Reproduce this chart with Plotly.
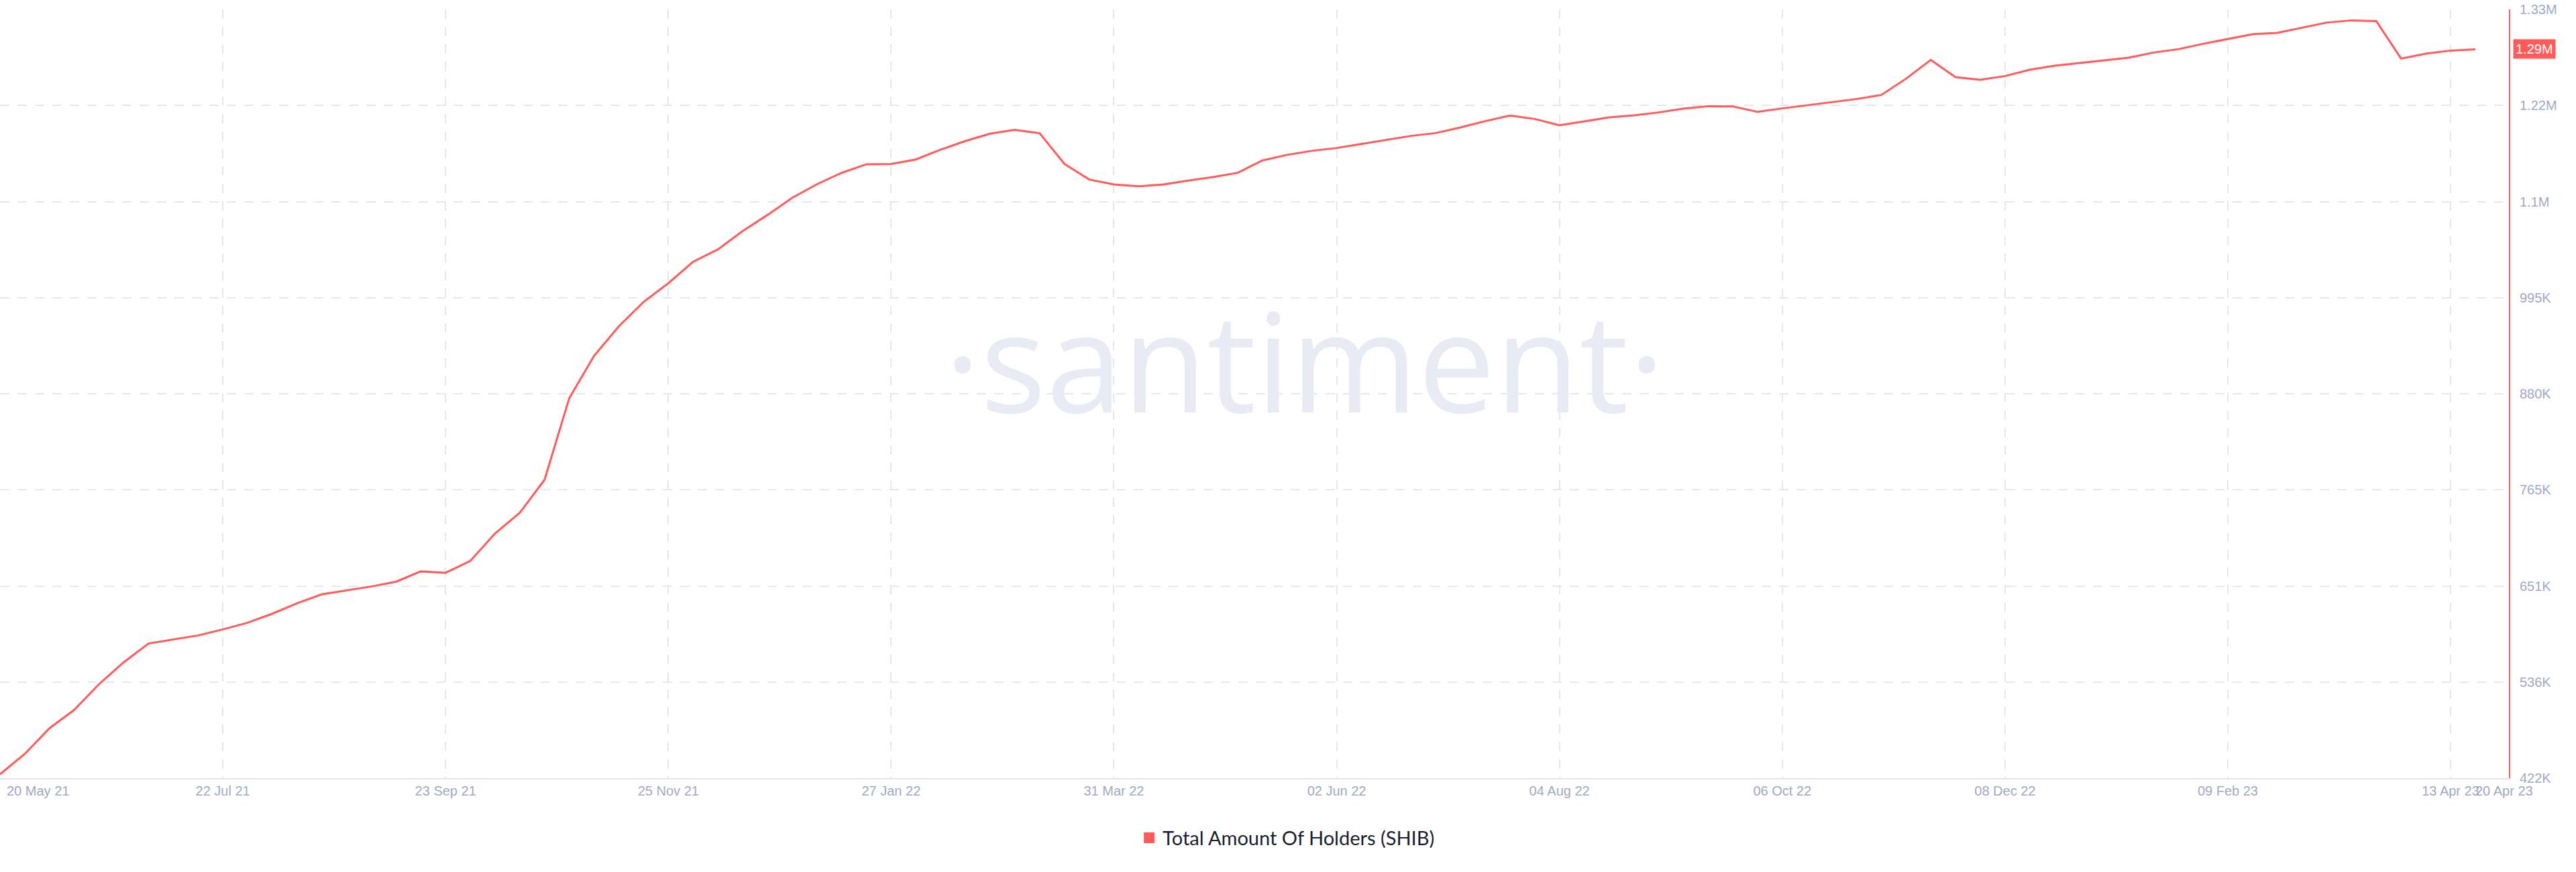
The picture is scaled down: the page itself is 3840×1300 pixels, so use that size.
import pandas as pd
import plotly.graph_objects as go

# ---- data ----
start_date = "2021-05-20"
series_name = "Total Amount Of Holders (SHIB)"
holders_k = [
    426.6, 450.8, 481.4, 503.4, 534.0, 560.2, 582.5, 587.3, 592.1, 599.3,
    607.3, 618.0, 630.5, 641.2, 645.9, 650.5, 656.2, 668.5, 666.9, 681.0,
    713.8, 738.5, 777.8, 875.3, 925.6, 960.8, 989.9, 1012.2, 1037.8, 1052.5,
    1074.4, 1093.5, 1114.0, 1130.2, 1143.8, 1154.1, 1154.5, 1159.8, 1171.5, 1181.8,
    1190.6, 1195.1, 1191.1, 1154.6, 1135.9, 1130.0, 1127.9, 1130.0, 1134.6, 1138.8,
    1143.9, 1158.6, 1165.3, 1170.1, 1173.5, 1178.5, 1183.1, 1187.9, 1191.3, 1198.0,
    1205.5, 1212.1, 1208.1, 1200.7, 1205.2, 1210.0, 1212.4, 1215.9, 1220.4, 1223.3,
    1223.1, 1216.7, 1220.7, 1224.4, 1228.7, 1231.9, 1236.7, 1256.1, 1278.5, 1258.0,
    1254.8, 1259.3, 1266.8, 1271.6, 1274.8, 1278.0, 1281.2, 1287.3, 1291.3, 1297.7,
    1303.3, 1309.2, 1310.8, 1317.2, 1323.1, 1325.7, 1324.9, 1280.1, 1286.0, 1289.7,
    1291.3,
]
holders = [v * 1000 for v in holders_k]
dates = pd.date_range(start_date, periods=len(holders), freq="7D")

x_tick_dates = ["2021-05-20", "2021-07-22", "2021-09-23", "2021-11-25", "2022-01-27",
                "2022-03-31", "2022-06-02", "2022-08-04", "2022-10-06", "2022-12-08",
                "2023-02-09", "2023-04-13"]
x_tick_text = ["", "22 Jul 21", "23 Sep 21", "25 Nov 21", "27 Jan 22", "31 Mar 22",
               "02 Jun 22", "04 Aug 22", "06 Oct 22", "08 Dec 22", "09 Feb 23", "13 Apr 23"]
first_label = "20 May 21"
last_label = "20 Apr 23"

y_tick_vals = [422000, 536600, 651200, 765800, 880400, 995000, 1109600, 1224200, 1338800]
y_tick_text = ["422K", "536K", "651K", "765K", "880K", "995K", "1.1M", "1.22M", "1.33M"]
last_value_label = "1.29M"

# ---- style ----
RED = "#ff5b5b"
GRID = "#e4e7f0"
TICK = "#a0a9c3"
W, H = 3840, 1300
FS = 20

fig = go.Figure()
fig.add_trace(go.Scatter(
    x=dates, y=holders, mode="lines",
    line=dict(color=RED, width=3), showlegend=False,
))
fig.add_trace(go.Scatter(
    x=[None], y=[None], mode="markers", name=series_name,
    marker=dict(symbol="square", size=18, color=RED),
))

fig.update_layout(
    width=W, height=H,
    margin=dict(l=0, r=100, t=14, b=140, autoexpand=False),
    paper_bgcolor="white", plot_bgcolor="white",
    font=dict(family="Liberation Sans, Arial, sans-serif", size=FS, color=TICK),
    legend=dict(orientation="h", x=0.513, xanchor="center", y=-0.0777, yanchor="middle",
                font=dict(family="Lato, sans-serif", size=29, color="#1a1d2e"),
                itemwidth=30),
    xaxis=dict(
        type="date", automargin=False,
        range=["2021-05-20", "2023-04-29 12:00"],
        tickvals=x_tick_dates, ticktext=x_tick_text,
        showgrid=True, gridcolor=GRID, griddash="14px,12px", gridwidth=2,
        showline=True, linecolor="#e2e5ee", linewidth=2,
        ticks="", ticklabelstandoff=0,
        tickfont=dict(size=FS, color=TICK),
        zeroline=False,
    ),
    yaxis=dict(
        side="right", automargin=False,
        range=[422000, 1338800],
        tickvals=y_tick_vals, ticktext=y_tick_text,
        showgrid=True, gridcolor=GRID, griddash="14px,12px", gridwidth=2,
        showline=True, linecolor=RED, linewidth=2,
        ticks="", ticklabelstandoff=10,
        tickfont=dict(size=FS, color=TICK),
        zeroline=False,
    ),
)

annotations = [
    dict(text="·santiment·", xref="paper", yref="paper", x=0.52, y=0.545,
         xanchor="center", yanchor="middle", showarrow=False,
         font=dict(family="Open Sans, sans-serif", size=205, color="#e8ebf3")),
    dict(text=first_label, xref="paper", yref="paper", x=0, y=0, xanchor="left",
         yanchor="top", xshift=8, yshift=-6, showarrow=False,
         font=dict(size=FS, color=TICK)),
    dict(text=last_label, xref="x", yref="paper", x=dates[-1], y=0, xanchor="left",
         yanchor="top", xshift=-2, yshift=-6, showarrow=False,
         font=dict(size=FS, color=TICK)),
    dict(text=last_value_label, xref="paper", yref="y", x=1, y=holders[-1],
         xanchor="left", yanchor="middle", xshift=6, showarrow=False,
         bgcolor=RED, borderpad=3,
         font=dict(size=FS, color="white")),
]
fig.update_layout(annotations=annotations)

fig.write_html(
    "out.html",
    config={"displayModeBar": False},
    post_script="document.body.style.margin='0';document.body.style.overflow='hidden';",
)
